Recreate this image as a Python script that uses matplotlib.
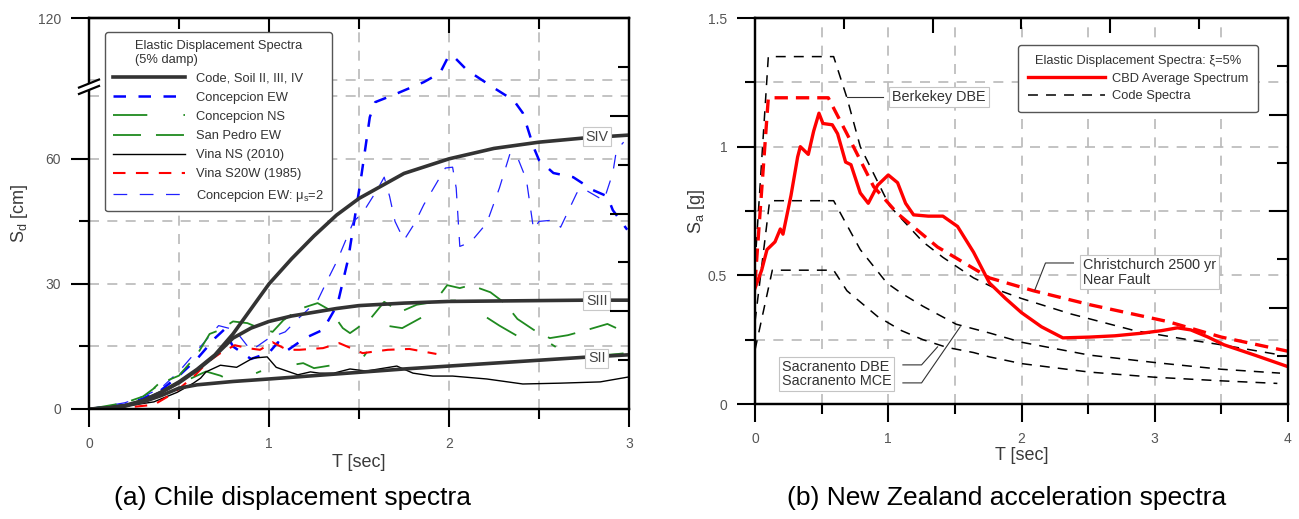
import numpy as np
import matplotlib.pyplot as plt
from matplotlib.lines import Line2D
from matplotlib.ticker import NullFormatter

plt.rcParams['font.family'] = ['Liberation Sans', 'DejaVu Sans']
plt.rcParams['mathtext.fontset'] = 'custom'
plt.rcParams['mathtext.rm'] = 'Liberation Sans'
plt.rcParams['mathtext.it'] = 'Liberation Sans:italic'

# ---------------- (a) Chile displacement spectra [cm] ----------------
code_T = [0, 0.1, 0.2, 0.3, 0.4, 0.5, 0.6, 0.7, 0.8, 0.9, 1.0, 1.125, 1.25,
          1.375, 1.5, 1.75, 2.0, 2.25, 2.5, 2.75, 3.0]
code_siv = [0, 0.2, 0.8, 2.0, 4.0, 6.5, 9.5, 13, 18, 24, 30, 36, 41.5,
            46.5, 50.5, 56.5, 60, 62.5, 64, 65, 65.7]
code_siii = [0, 0.2, 0.8, 2.0, 4.0, 6.3, 9.3, 12.8, 17, 19.4, 21, 22.3, 23.2,
             24.1, 24.8, 25.4, 25.8, 25.9, 26, 26.1, 26.1]
code_sii = [0, 0.2, 0.7, 1.7, 3.2, 5.0, 5.8, 6.2, 6.6, 6.9, 7.2, 7.6, 8.0,
            8.4, 8.8, 9.6, 10.3, 11, 11.7, 12.4, 13]

conc_ew_T = [0, 0.2, 0.3, 0.4, 0.5, 0.6, 0.7, 0.75, 0.8, 0.9, 1.0, 1.05, 1.1,
             1.2, 1.3, 1.38, 1.44, 1.51, 1.56, 1.59, 1.69, 1.86, 1.95, 2.0,
             2.03, 2.1, 2.25, 2.36, 2.41, 2.47, 2.5, 2.58, 2.69, 2.8, 2.88,
             2.91, 2.99]
conc_ew = [0, 1, 2.5, 4.5, 8, 12, 17, 19, 15, 12, 13.5, 16, 14,
           17, 19, 25, 36, 55, 70, 73.6, 75.3, 89, 93.4, 102,
           101, 94.8, 77, 74, 71, 62.8, 59.7, 56.6, 55.6, 52.5, 51,
           47.7, 43]

conc_ns_T = [0, 0.2, 0.3, 0.39, 0.48, 0.55, 0.65, 0.73, 0.8, 0.88, 0.95, 1.05,
             1.12, 1.19, 1.25, 1.35, 1.44, 1.52, 1.57, 1.65, 1.74, 1.85, 1.95,
             2.06, 2.13, 2.19, 2.28, 2.38, 2.47, 2.56, 2.66, 2.77, 2.88, 2.94,
             3.0]
conc_ns = [0, 1, 2.5, 6.2, 5.3, 7, 9, 8, 6.5, 7.7, 9, 10,
           10.5, 11, 9.8, 10.5, 11.3, 12.2, 15.3, 20, 19.4, 22, 26,
           26, 23.7, 22.5, 20, 17.5, 16.5, 15.8, 13, 13.5, 13, 13.2,
           13.5]

san_pedro_T = [0, 0.2, 0.3, 0.4, 0.5, 0.6, 0.67, 0.73, 0.8, 0.88, 0.93, 1.02,
               1.08, 1.17, 1.27, 1.34, 1.41, 1.45, 1.49, 1.57, 1.64, 1.73,
               1.82, 1.92, 1.99, 2.06, 2.12, 2.23, 2.31, 2.38, 2.47, 2.56,
               2.66, 2.77, 2.88, 2.99]
san_pedro = [0, 1.5, 3, 6.2, 8, 13, 18, 19, 21, 20.6, 19.7, 18.5,
             21.3, 24, 25.4, 23.7, 19.4, 18.2, 19.4, 22, 25.7, 23.3,
             25, 25.7, 29.7, 29, 29.7, 28, 25.4, 21.6, 19, 17,
             17.7, 19, 20.4, 18.2]

vina_ns_T = [0, 0.17, 0.36, 0.49, 0.58, 0.62, 0.65, 0.73, 0.82, 0.91, 0.99,
             1.04, 1.16, 1.23, 1.28, 1.36, 1.45, 1.54, 1.71, 1.8, 1.91, 2.02,
             2.21, 2.41, 2.62, 2.84, 3.0]
vina_ns = [0, 0.5, 1.7, 4, 6.2, 7.4, 8.9, 10.5, 10, 12.2, 12.5,
           10, 8.2, 8.9, 8.6, 8.6, 9.6, 9.1, 10.3, 8.6, 7.9, 7.9,
           7.2, 6, 6.2, 6.5, 7.7]

vina_s20w_T = [0, 0.24, 0.36, 0.47, 0.58, 0.66, 0.73, 0.81, 0.88, 0.95, 1.02,
               1.1, 1.17, 1.23, 1.3, 1.39, 1.52, 1.66, 1.78, 1.93]
vina_s20w = [0, 0.5, 1, 3.8, 7.7, 11.3, 13.4, 15.3, 14.6, 14.2, 16,
             14.2, 14.2, 14.4, 14.6, 15.8, 13.4, 14.2, 14.4, 13.2]

conc_mu2_T = [0, 0.2, 0.3, 0.4, 0.5, 0.6, 0.66, 0.72, 0.81, 0.9, 1.0, 1.09,
              1.17, 1.27, 1.32, 1.38, 1.47, 1.52, 1.6, 1.64, 1.67, 1.7, 1.75,
              1.81, 1.86, 1.98, 2.02, 2.04, 2.06, 2.12, 2.21, 2.28, 2.34,
              2.38, 2.43, 2.47, 2.5, 2.58, 2.62, 2.71, 2.74, 2.86, 2.91,
              2.93, 2.97]
conc_mu2 = [0, 1.5, 3, 5, 9, 14, 17, 20, 19, 14, 17, 18.5,
            22, 26, 30.5, 35.7, 45, 47, 52.5, 55.6, 51, 45, 40.5,
            44.6, 49, 57.8, 58, 53, 39, 40, 44.6, 53, 61.4,
            60.4, 55, 43, 45, 45.3, 43.6, 51.8, 53, 50, 56.6,
            62, 64]

soil_labels = ['SIV', 'SIII', 'SII']
soil_label_T = [2.82, 2.82, 2.82]
soil_label_val = [65.3, 26.0, 12.2]

# ---------------- (b) New Zealand acceleration spectra [g] ----------------
cbd_T = [0, 0.05, 0.09, 0.15, 0.19, 0.21, 0.27, 0.32, 0.34, 0.4, 0.44, 0.48,
         0.51, 0.58, 0.62, 0.68, 0.72, 0.79, 0.85, 0.92, 1.0, 1.07, 1.13,
         1.19, 1.3, 1.41, 1.52, 1.64, 1.76, 1.88, 2.0, 2.15, 2.31, 2.51,
         2.7, 2.9, 3.05, 3.17, 3.27, 3.4, 3.52, 3.75, 4.0]
cbd_avg = [0.45, 0.52, 0.6, 0.63, 0.68, 0.66, 0.81, 0.96, 1.0, 0.97, 1.06, 1.13,
           1.09, 1.085, 1.05, 0.94, 0.93, 0.82, 0.78, 0.85, 0.89, 0.86, 0.78,
           0.735, 0.73, 0.73, 0.69, 0.59, 0.47, 0.41, 0.355, 0.3, 0.257, 0.26,
           0.265, 0.275, 0.285, 0.296, 0.288, 0.26, 0.23, 0.19, 0.145]

chch_T = [0, 0.1, 0.55, 0.69, 0.89, 1.07, 1.37, 1.76, 2.09, 2.52, 3.1, 3.5, 4.0]
chch_nf = [0.47, 1.19, 1.19, 1.05, 0.845, 0.74, 0.61, 0.49, 0.44, 0.385, 0.32,
           0.26, 0.205]

berk_T = [0, 0.1, 0.59, 0.69, 0.79, 1.01, 1.26, 1.41, 1.64, 1.84, 2.0, 2.37,
          2.85, 3.25, 3.5, 3.95]
berk_dbe = [0.54, 1.35, 1.35, 1.19, 1.0, 0.77, 0.63, 0.57, 0.49, 0.44, 0.41,
            0.35, 0.285, 0.25, 0.23, 0.19]

sac_mce_T = [0, 0.11, 0.59, 0.79, 0.99, 1.1, 1.26, 1.51, 1.76, 2.0, 2.51, 3.02,
             3.5, 3.94]
sac_mce = [0.32, 0.79, 0.79, 0.6, 0.47, 0.43, 0.38, 0.31, 0.276, 0.24, 0.19,
           0.16, 0.135, 0.12]

sac_dbe_T = [0, 0.13, 0.59, 0.69, 0.92, 1.1, 1.26, 1.44, 1.64, 1.76, 2.0, 2.51,
             3.0, 3.5, 3.92]
sac_dbe = [0.21, 0.52, 0.52, 0.44, 0.34, 0.285, 0.25, 0.22, 0.2, 0.183, 0.157,
           0.124, 0.104, 0.09, 0.08]

GRID = dict(color='#b9b9b9', lw=1.2, ls=(0, (6, 5)), zorder=0)
TICK_TXT = '#555555'
LABEL_TXT = '#3a3a3a'


# broken y axis for panel (a): linear up to ~77 cm, compressed above 87 cm
LOW_TOP, HIGH_START = 77.0, 87.0
HS_Y = 78.9 + (HIGH_START - 90.0) * 0.496


def sd_forward(v):
    v = np.asarray(v, dtype=float)
    mid = LOW_TOP + (v - LOW_TOP) * (HS_Y - LOW_TOP) / (HIGH_START - LOW_TOP)
    hi = 78.9 + (v - 90.0) * 0.496
    return np.where(v <= LOW_TOP, v, np.where(v < HIGH_START, mid, hi))


def sd_inverse(y):
    y = np.asarray(y, dtype=float)
    mid = LOW_TOP + (y - LOW_TOP) * (HIGH_START - LOW_TOP) / (HS_Y - LOW_TOP)
    hi = 90.0 + (y - 78.9) / 0.496
    return np.where(y <= LOW_TOP, y, np.where(y < HS_Y, mid, hi))


def style_frame(ax, sec_top, twin, top_major, top_minor, r_major, r_minor):
    for s in ax.spines.values():
        s.set_linewidth(1.6)
    ax.tick_params(which='major', direction='out', length=13, width=1.5,
                   labelcolor=TICK_TXT, labelsize=10, pad=7)
    ax.tick_params(which='minor', direction='out', length=7, width=1.5)
    sec_top.set_xticks(top_major)
    sec_top.set_xticks(top_minor, minor=True)
    sec_top.xaxis.set_major_formatter(NullFormatter())
    sec_top.tick_params(which='major', direction='in', length=11, width=1.5)
    sec_top.tick_params(which='minor', direction='in', length=8, width=1.5)
    sec_top.spines['top'].set_linewidth(1.6)
    twin.set_ylim(0, 8)
    twin.set_yticks(r_major)
    twin.set_yticks(r_minor, minor=True)
    twin.yaxis.set_major_formatter(NullFormatter())
    twin.tick_params(which='major', direction='in', length=14, width=1.5)
    twin.tick_params(which='minor', direction='in', length=8, width=1.5)
    for s in twin.spines.values():
        s.set_linewidth(1.6)


fig = plt.figure(figsize=(12.99, 5.19), dpi=100)
ax1 = fig.add_axes([89 / 1299, 110 / 519, 540 / 1299, 391 / 519])
ax2 = fig.add_axes([755 / 1299, 115 / 519, 533 / 1299, 386 / 519])

# ---------------- panel (a) ----------------
ax1.set_yscale('function', functions=(sd_forward, sd_inverse))
ax1.set_xlim(0, 3)
ax1.set_ylim(0, 120)
for v in [15, 30, 45, 60, 75, 90]:
    ax1.axhline(v, **GRID)
for t in [0.5, 1.0, 1.5, 2.0, 2.5]:
    ax1.axvline(t, **GRID)

h_cew, = ax1.plot(conc_ew_T, conc_ew, color='#0000ff', lw=1.8, ls=(0, (5, 5)))
h_mu2, = ax1.plot(conc_mu2_T, conc_mu2, color='#2020ff', lw=0.9, ls=(0, (11, 10)))
h_cns, = ax1.plot(conc_ns_T, conc_ns, color='#1f8a1f', lw=1.3, ls=(0, (19, 20, 3, 20)))
h_spe, = ax1.plot(san_pedro_T, san_pedro, color='#1f8a1f', lw=1.3, ls=(0, (15.5, 8.3)))
h_vns, = ax1.plot(vina_ns_T, vina_ns, color='black', lw=1.0)
h_vs20, = ax1.plot(vina_s20w_T, vina_s20w, color='#ff0000', lw=1.5, ls=(0, (6, 5)))
for vals in (code_siv, code_siii, code_sii):
    h_code, = ax1.plot(code_T, vals, color='#333333', lw=2.6, zorder=4)

for lab, t, v in zip(soil_labels, soil_label_T, soil_label_val):
    ax1.text(t, v, lab, ha='center', va='center', fontsize=10.3, color='#444444',
             zorder=6, bbox=dict(boxstyle='square,pad=0.18', fc='white',
                                 ec='#c8c8c8', lw=0.8))

ax1.set_xticks([0, 1, 2, 3], ['0', '1', '2', '3'])
ax1.set_xticks([0.5, 1.5, 2.5], minor=True)
ax1.set_yticks([0, 30, 60, 120], ['0', '30', '60', '120'])
ax1.set_yticks([15, 45], minor=True)
ax1.yaxis.set_minor_formatter(NullFormatter())
ax1.set_xlabel('T [sec]', fontsize=13, color=LABEL_TXT, labelpad=2)
ax1.set_ylabel(r'$\mathregular{S_d}$ [cm]', fontsize=13, color=LABEL_TXT, labelpad=6)
style_frame(ax1, ax1.secondary_xaxis('top'), ax1.twinx(),
            [1, 2], [0.5, 1.5, 2.5], [2, 4, 6], [1, 3, 5, 7])

leg1 = ax1.legend([h_code, h_cew, h_cns, h_spe, h_vns, h_vs20, h_mu2],
                  ['Code, Soil II, III, IV', 'Concepcion EW', 'Concepcion NS',
                   'San Pedro EW', 'Vina NS (2010)', 'Vina S20W (1985)',
                   r'Concepcion EW: $\mathregular{\mu_s}$=2'],
                  title='Elastic Displacement Spectra\n(5% damp)',
                  loc='upper left', bbox_to_anchor=(105 / 1299, 1 - 32 / 519),
                  bbox_transform=fig.transFigure, borderaxespad=0,
                  fontsize=9.3, title_fontsize=9.3, handlelength=5.6,
                  handletextpad=0.85, labelspacing=0.55, borderpad=0.6,
                  fancybox=True, framealpha=1, edgecolor='#555555')
leg1.get_frame().set_linewidth(1.0)
leg1.get_title().set_multialignment('left')
leg1.get_title().set_color('#333333')
for txt in leg1.get_texts():
    txt.set_color('#333333')
leg1.set_zorder(10)

# axis break marks on the left spine
bx, by = fig.transFigure.inverted().transform(ax1.transData.transform((0, 84)))
W, H = 1299.0, 519.0
dx, dy = 10 / W, 4 / H
fig.add_artist(Line2D([bx - dx, bx + dx], [by - dy, by + dy], color='white',
                      lw=4.5, transform=fig.transFigure, zorder=20))
for off in (-3.2 / H, 3.2 / H):
    fig.add_artist(Line2D([bx - dx, bx + dx], [by - dy + off, by + dy + off],
                          color='black', lw=1.6, transform=fig.transFigure,
                          zorder=21))

# ---------------- panel (b) ----------------
ax2.set_xlim(0, 4)
ax2.set_ylim(0, 1.5)
for v in [0.25, 0.5, 0.75, 1.0, 1.25]:
    ax2.axhline(v, **GRID)
for t in [0.5, 1.0, 1.5, 2.0, 2.5, 3.0, 3.5]:
    ax2.axvline(t, **GRID)

CODE = dict(color='black', lw=1.1, ls=(0, (6.5, 5.3)))
h_berk, = ax2.plot(berk_T, berk_dbe, **CODE)
ax2.plot(sac_mce_T, sac_mce, **CODE)
ax2.plot(sac_dbe_T, sac_dbe, **CODE)
ax2.plot(chch_T, chch_nf, color='#ff0000', lw=2.4, ls=(0, (4, 2.4)))
h_cbd, = ax2.plot(cbd_T, cbd_avg, color='#ff0000', lw=2.4)

BOX = dict(boxstyle='square,pad=0.2', fc='white', ec='#c4c4c4', lw=0.8)
LEAD = dict(color='#333333', lw=0.8)
ax2.plot([0.69, 0.96], [1.193, 1.193], **LEAD)
ax2.text(1.03, 1.193, 'Berkekey DBE', ha='left', va='center', fontsize=10.4,
         color='#333333', bbox=BOX)
ax2.plot([2.10, 2.18, 2.39], [0.443, 0.548, 0.548], **LEAD)
ax2.text(2.46, 0.512, 'Christchurch 2500 yr\nNear Fault', ha='left',
         va='center', fontsize=10.4, color='#333333', bbox=BOX, linespacing=1.05)
ax2.plot([1.11, 1.25, 1.37], [0.152, 0.152, 0.222], **LEAD)
ax2.plot([1.11, 1.25, 1.54], [0.082, 0.082, 0.30], **LEAD)
ax2.text(0.20, 0.117, 'Sacranento DBE\nSacranento MCE', ha='left',
         va='center', fontsize=10.4, color='#333333', bbox=BOX, linespacing=1.05)

ax2.set_xticks([0, 1, 2, 3, 4], ['0', '1', '2', '3', '4'])
ax2.set_xticks([0.5, 1.5, 2.5, 3.5], minor=True)
ax2.set_yticks([0, 0.5, 1.0, 1.5], ['0', '0.5', '1', '1.5'])
ax2.set_yticks([0.25, 0.75, 1.25], minor=True)
ax2.set_xlabel('T [sec]', fontsize=13, color=LABEL_TXT, labelpad=1)
ax2.set_ylabel(r'$\mathregular{S_a}$ [g]', fontsize=13, color=LABEL_TXT, labelpad=1)
sec2 = ax2.secondary_xaxis('top', functions=(lambda t: t * 1.5, lambda s: s / 1.5))
style_frame(ax2, sec2, ax2.twinx(), [2, 4], [1, 3, 5], [2, 4, 6], [1, 3, 5, 7])

leg2 = ax2.legend([h_cbd, h_berk], ['CBD Average Spectrum', 'Code Spectra'],
                  title='Elastic Displacement Spectra: \u03be=5%',
                  loc='upper left', bbox_to_anchor=(1018 / 1299, 1 - 45 / 519),
                  bbox_transform=fig.transFigure, borderaxespad=0,
                  fontsize=9.3, title_fontsize=9.3, handlelength=6.0,
                  handletextpad=0.5, labelspacing=0.45, borderpad=0.75,
                  fancybox=True, framealpha=1, edgecolor='#555555')
leg2.get_frame().set_linewidth(1.0)
leg2.get_title().set_color('#333333')
for txt in leg2.get_texts():
    txt.set_color('#333333')
leg2.set_zorder(10)

fig.text(293 / 1299, 1 - 498 / 519, '(a) Chile displacement spectra',
         ha='center', va='center', fontsize=19)
fig.text(1007 / 1299, 1 - 498 / 519, '(b) New Zealand acceleration spectra',
         ha='center', va='center', fontsize=19)

fig.savefig('out.png', dpi=100)
